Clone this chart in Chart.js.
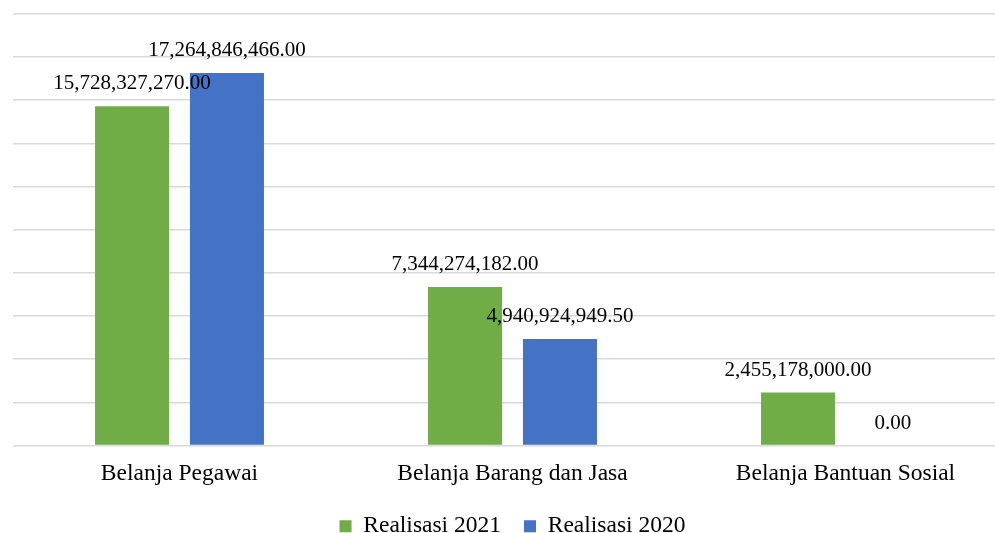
<!DOCTYPE html>
<html>
<head>
<meta charset="utf-8">
<script src="https://cdn.jsdelivr.net/npm/chart.js@4/dist/chart.umd.min.js"></script>
<style>
  html, body { margin: 0; padding: 0; background: #ffffff; overflow: hidden; }
  #wrap { position: relative; width: 1012px; height: 548px; }
</style>
</head>
<body>
<div id="wrap"><canvas id="c"></canvas></div>
<script>
const categories = ["Belanja Pegawai", "Belanja Barang dan Jasa", "Belanja Bantuan Sosial"];
const realisasi2021 = [15728327270.00, 7344274182.00, 2455178000.00];
const realisasi2020 = [17264846466.00, 4940924949.50, 0.00];
const seriesNames = ["Realisasi 2021", "Realisasi 2020"];
const yMin = 0;
const yMax = 20000000000;
const yStep = 2000000000;

const FONT = "'Liberation Serif', 'Times New Roman', serif";

const valueLabels = {
  id: 'valueLabels',
  afterDatasetsDraw(chart) {
    const ctx = chart.ctx;
    ctx.save();
    ctx.font = "21px " + FONT;
    ctx.fillStyle = "#000000";
    ctx.textAlign = "center";
    ctx.textBaseline = "alphabetic";
    chart.data.datasets.forEach((ds, i) => {
      const meta = chart.getDatasetMeta(i);
      meta.data.forEach((el, j) => {
        const v = ds.data[j];
        const txt = v.toLocaleString('en-US', {minimumFractionDigits: 2, maximumFractionDigits: 2});
        ctx.fillText(txt, el.x, el.y - 17);
      });
    });
    ctx.restore();
  }
};

new Chart(document.getElementById('c'), {
  type: 'bar',
  data: {
    labels: categories,
    datasets: [
      { label: seriesNames[0], data: realisasi2021, backgroundColor: '#70ad47', borderWidth: 0 },
      { label: seriesNames[1], data: realisasi2020, backgroundColor: '#4472c4', borderWidth: 0 }
    ]
  },
  options: {
    responsive: true,
    maintainAspectRatio: false,
    animation: false,
    devicePixelRatio: 1,
    categoryPercentage: 0.57,
    barPercentage: 0.78,
    layout: { padding: { left: 13, right: 0, top: 14, bottom: 0 } },
    plugins: {
      legend: {
        position: 'bottom',
        labels: {
          boxWidth: 12,
          boxHeight: 12,
          padding: 23,
          color: '#000000',
          font: { family: FONT, size: 23.5 }
        }
      },
      tooltip: { enabled: false },
      title: { display: false }
    },
    scales: {
      x: {
        grid: { display: false, drawTicks: false },
        border: { display: false },
        ticks: {
          color: '#000000',
          padding: 14,
          font: { family: FONT, size: 23.5 }
        },
        afterFit(scale) { scale.height = 46; }
      },
      y: {
        min: yMin,
        max: yMax,
        grid: { color: '#d9d9d9', lineWidth: 1.6, drawTicks: false },
        border: { display: false },
        ticks: { display: false, stepSize: yStep }
      }
    }
  },
  plugins: [valueLabels]
});
</script>
</body>
</html>
